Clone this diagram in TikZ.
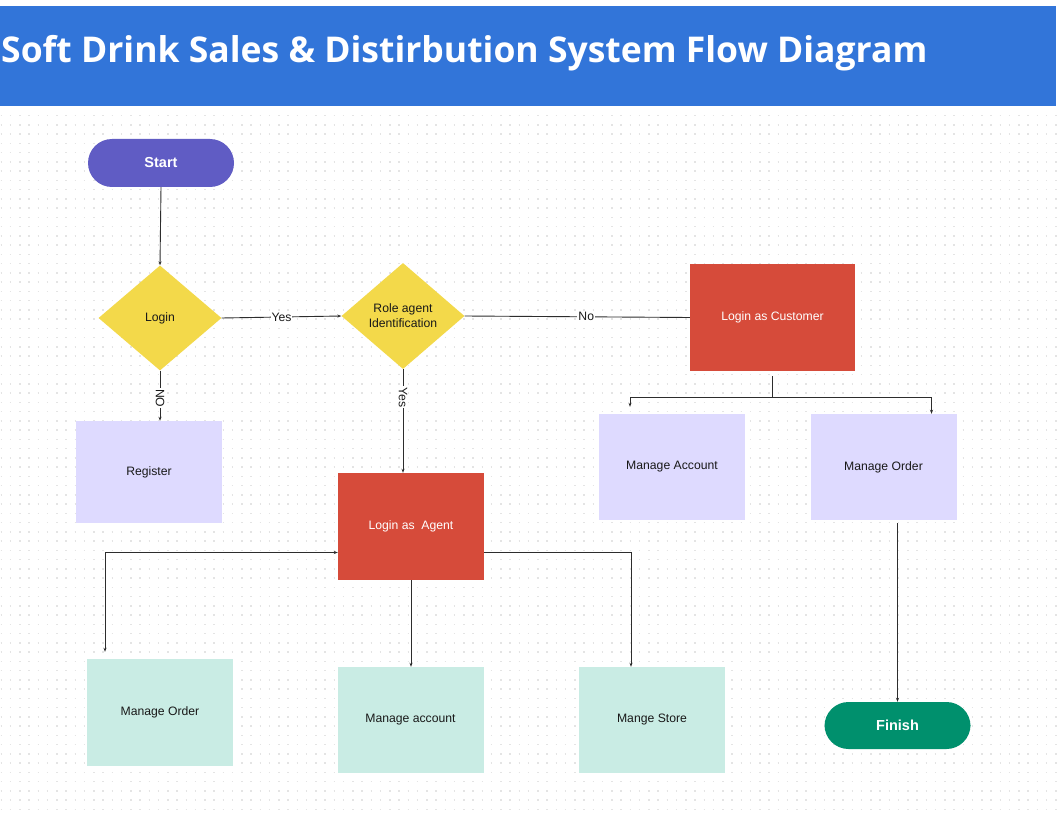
\documentclass[tikz,border=0pt]{standalone}
\usepackage{fontspec}
\setmainfont{Liberation Sans}
\newfontfamily\titlefont{Open Sans}
\usetikzlibrary{shapes.geometric,arrows.meta}
\definecolor{headblue}{RGB}{50,117,217}
\definecolor{startpurple}{RGB}{96,92,196}
\definecolor{decyellow}{RGB}{243,217,74}
\definecolor{loginred}{RGB}{214,75,58}
\definecolor{lavender}{RGB}{222,218,255}
\definecolor{mint}{RGB}{201,236,228}
\definecolor{finishgreen}{RGB}{0,144,109}
\definecolor{linegrey}{RGB}{45,45,45}
\definecolor{dotgrey}{RGB}{228,228,228}
\definecolor{textdark}{RGB}{25,25,25}

\begin{document}
\begin{tikzpicture}[x=1pt,y=-1pt,
  every node/.style={inner sep=0pt, text=textdark, font=\fontsize{12.2}{15}\selectfont},
  pill/.style={rectangle, rounded corners=24pt, minimum width=146pt, minimum height=48pt, text=white, font=\bfseries\fontsize{14.5}{16}\selectfont},
  decision/.style={diamond, fill=decyellow, minimum width=123pt, minimum height=105pt, align=center},
  loginbox/.style={rectangle, fill=loginred, minimum width=146pt, minimum height=107pt, text=white},
  custbox/.style={rectangle, fill=lavender, minimum width=146pt, minimum height=106pt},
  agentbox/.style={rectangle, fill=mint, minimum width=146pt, minimum height=106pt},
  line/.style={draw=linegrey, line width=0.9pt},
  flow/.style={line, -{Stealth[length=4pt,width=3pt]}},
  lbl/.style={fill=white, inner sep=1pt}
]
\useasboundingbox (0,0) rectangle (1058,821);
\fill[white] (0,0) rectangle (1058,821);
% dotted canvas
\foreach \yy in {115.7,124.95,...,816}
  \draw[dotgrey, line width=1.5pt, dash pattern=on 1.5pt off 7.75pt] (0.5,\yy) -- (1058,\yy);
% title band
\fill[headblue] (0,6) rectangle (1056,106);
\node[anchor=base west, text=white, font=\titlefont\bfseries\fontsize{35.5}{40}\selectfont] (title) at (1,63) {Soft Drink Sales \& Distirbution System Flow Diagram};

\node[pill, fill=startpurple] (start) at (161,163) {Start};
\node[decision] (login) at (160,318) {Login};
\node[decision, minimum height=106pt] (role) at (403,316) {Role agent\\Identification};
\node[loginbox, minimum width=165pt] (cust) at (772.5,317.5) {Login as Customer};
\node[custbox, minimum height=102pt] (register) at (149,472) {Register};
\node[loginbox] (agent) at (411,526.5) {Login as\ \ Agent};
\node[custbox] (macc) at (672,467) {Manage Account};
\node[custbox] (morder) at (883.5,467) {Manage Order};
\node[agentbox, minimum height=107pt] (aorder) at (160,712.5) {Manage Order};
\node[agentbox] (aacc) at (410.5,720) {Manage account};
\node[agentbox] (astore) at (652,720) {Mange Store};
\node[pill, fill=finishgreen, minimum height=47pt] (finish) at (897.5,725.5) {Finish};

\draw[flow] (start.south) -- (login.north);
\draw[flow] (login.east) -- node[lbl]{Yes} (role.west);
\draw[flow] (login.south) -- node[lbl, pos=0.55, rotate=-90]{NO} (login.south |- register.north);
\draw[flow] (role.south) -- node[lbl, pos=0.27, rotate=-90]{Yes} (role.south |- agent.north);
\draw[line] (role.east) -- node[lbl, pos=0.54]{No} (cust.west);
% customer branches
\draw[line] ([yshift=-5pt]cust.south) -- ++(0,21) coordinate (cfork);
\draw[flow] (cfork) -| ([xshift=-42pt,yshift=7pt]macc.north);
\draw[flow] (cfork) -| ([xshift=48pt]morder.north);
\draw[flow] ([yshift=-3pt]finish.north |- morder.south) -- (finish.north);
% agent branches
\draw[line, {Stealth[length=4pt,width=3pt]}-{Stealth[length=4pt,width=3pt]}] ([yshift=-26pt]agent.west) -| ([xshift=-55pt,yshift=7pt]aorder.north);
\draw[flow] (agent.south) -- (agent.south |- aacc.north);
\draw[flow] ([yshift=-26pt]agent.east) -| ([xshift=-21pt]astore.north);
\end{tikzpicture}
\end{document}
